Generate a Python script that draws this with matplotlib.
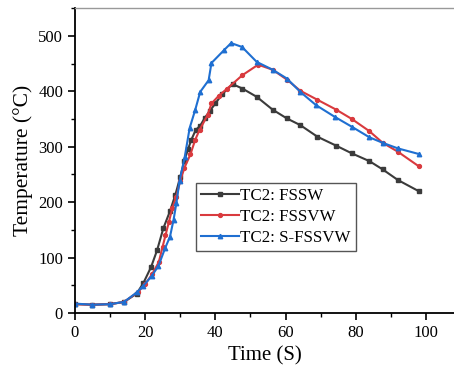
import numpy as np
import matplotlib.pyplot as plt
from matplotlib.ticker import MultipleLocator

plt.rcParams['font.family'] = ['Liberation Serif', 'DejaVu Serif']

# TC2: FSSW
t_fssw = [0, 5, 10, 14, 17.6, 19.5, 21.7, 23.4, 25.2, 27.1, 28.6, 30, 31.2, 32.2, 33.2, 34.4,
          35.7, 37, 38.5, 40, 42, 44.9, 47.7, 51.8, 56.3, 60.4, 64.2, 69.1, 74.4, 78.9, 83.9,
          87.7, 92, 97.9]
T_fssw = [16, 15, 16, 20, 35, 54, 83, 113, 153, 184, 213, 245, 275, 295, 313, 330,
          338, 352, 365, 378, 395, 413, 405, 390, 367, 351, 339, 318, 302, 288, 274,
          259, 240, 220]

# TC2: FSSVW
t_fssvw = [0, 5, 10, 14, 18, 20, 22, 23.9, 25, 25.8, 26.8, 27.8, 28.9, 30, 31.2, 32.9,
           34.3, 35.5, 37.8, 38.9, 41, 43.4, 47.7, 52.2, 56.3, 60.4, 64.2, 69, 74.4,
           78.9, 83.9, 87.7, 92, 97.9]
T_fssvw = [16, 15, 16, 20, 38, 52, 70, 92, 120, 140, 165, 190, 210, 238, 262, 286,
           313, 330, 357, 378, 392, 405, 429, 448, 439, 421, 401, 385, 367,
           350, 328, 307, 291, 265]

# TC2: S-FSSVW
t_sfssvw = [0, 5, 10, 14, 17.8, 19.5, 21.9, 23.8, 25.7, 27.1, 28.1, 28.9, 29.8, 31.3,
            32.7, 34.3, 35.7, 38.1, 38.9, 42.6, 44.5, 47.6, 51.8, 56.3, 60.4, 64.2,
            68.7, 74, 78.9, 83.9, 87.7, 92, 97.9]
T_sfssvw = [17, 15, 16, 20, 38, 49, 67, 85, 117, 138, 168, 198, 238, 282,
            334, 367, 399, 420, 451, 475, 487, 480, 453, 439, 423, 399,
            375, 354, 336, 317, 307, 297, 287]

fig = plt.figure(figsize=(4.54, 3.70), dpi=100)
ax = fig.add_axes([0.165, 0.154, 0.835, 0.824])

ax.plot(t_fssw, T_fssw, color='#3b3b3b', marker='s', ms=2.8, lw=1.5, label='TC2: FSSW')
ax.plot(t_fssvw, T_fssvw, color='#d93a3e', marker='o', ms=2.8, lw=1.5, label='TC2: FSSVW')
ax.plot(t_sfssvw, T_sfssvw, color='#1f6fd1', marker='^', ms=3.2, lw=1.5, label='TC2: S-FSSVW')

ax.set_xlim(0, 108)
ax.set_ylim(0, 550)
ax.xaxis.set_minor_locator(MultipleLocator(10))
ax.yaxis.set_major_locator(MultipleLocator(100))
ax.yaxis.set_minor_locator(MultipleLocator(50))
ax.set_xticks([0, 20, 40, 60, 80, 100])
ax.tick_params(which='major', direction='out', length=5, width=1.2, labelsize=12)
ax.tick_params(which='minor', direction='out', length=3, width=1.0)

for s in ['left', 'bottom']:
    ax.spines[s].set_linewidth(1.3)
ax.spines['top'].set_color('#999999')
ax.spines['top'].set_linewidth(1.0)
ax.spines['right'].set_visible(False)

ax.set_xlabel('Time (S)', fontsize=15, labelpad=4)
ax.set_ylabel('Temperature (°C)', fontsize=15.5, labelpad=4)

leg = ax.legend(loc='upper left', bbox_to_anchor=(0.32, 0.428), fontsize=12.2,
                frameon=True, fancybox=False, edgecolor='#555555', framealpha=1,
                handlelength=2.2, handletextpad=0.1, borderpad=0.3, labelspacing=0.3,
                borderaxespad=0)
leg.get_frame().set_linewidth(1.0)

fig.savefig('out.png', dpi=100)
